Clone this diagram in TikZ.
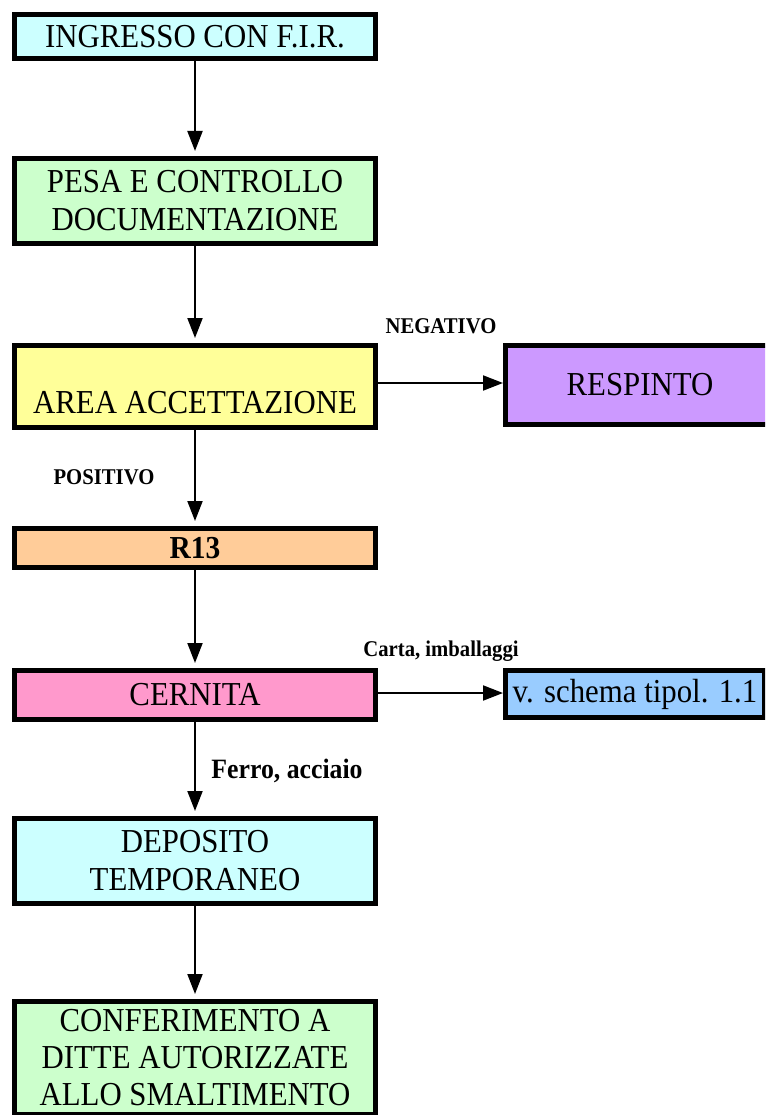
\documentclass[tikz,border=0pt]{standalone}
\usepackage{fontspec}
\setmainfont[FakeStretch=0.92]{Liberation Serif}
\usetikzlibrary{arrows.meta}
\definecolor{cCyan}{HTML}{CCFFFF}
\definecolor{cGreen}{HTML}{CCFFCC}
\definecolor{cYellow}{HTML}{FFFF99}
\definecolor{cPurple}{HTML}{CC99FF}
\definecolor{cPeach}{HTML}{FFCC99}
\definecolor{cPink}{HTML}{FF99CC}
\definecolor{cBlue}{HTML}{99CCFF}
\tikzset{
  box/.style={draw=black, line width=5pt, inner sep=0pt, align=center,
    font=\fontsize{33.5}{38}\selectfont},
  flow/.style={-{Triangle[width=15pt,length=20pt]}, line width=2pt},
  lab/.style={font=\bfseries\fontsize{22.5}{24}\selectfont, inner sep=0pt}
}
\begin{document}
\begin{tikzpicture}[x=1pt,y=-1pt]
\path[use as bounding box, clip] (0,0) rectangle (765,1115);
\node[box, fill=cCyan, minimum width=361pt, minimum height=44pt] (ing) at (195,36.5) {INGRESSO CON F.I.R.};
\node[box, fill=cGreen, minimum width=361pt, minimum height=85pt] (pesa) at (195,201) {PESA E CONTROLLO\\DOCUMENTAZIONE};
\node[box, fill=cYellow, minimum width=361pt, text height=68pt, text depth=14pt] (area) at (195,386.5) {AREA ACCETTAZIONE};
\node[box, fill=cPurple, minimum width=269pt, minimum height=79pt] (resp) at (640,385) {RESPINTO};
\node[box, fill=cPeach, minimum width=361pt, minimum height=39pt, font=\bfseries\fontsize{32}{36}\selectfont] (r13) at (195,548) {R13};
\node[box, fill=cPink, minimum width=361pt, minimum height=49pt] (cern) at (195,695) {CERNITA};
\node[box, fill=cBlue, minimum width=259pt, minimum height=47pt] (schema) at (635,694) {v. schema tipol. 1.1};
\node[box, fill=cCyan, minimum width=361pt, minimum height=85pt] (dep) at (195,861) {DEPOSITO\\TEMPORANEO};
\node[box, fill=cGreen, minimum width=361pt, minimum height=113pt, font=\fontsize{33.5}{37}\selectfont] (conf) at (195,1058) {CONFERIMENTO A\\DITTE AUTORIZZATE\\ALLO SMALTIMENTO};
\draw[flow, shorten >=5pt] (ing) -- (pesa);
\draw[flow, shorten >=5pt] (pesa) -- (area);
\draw[flow, shorten >=5pt] (area) -- (r13);
\draw[flow, shorten >=5pt] (r13) -- (cern);
\draw[flow, shorten >=5pt] (cern) -- (dep);
\draw[flow, shorten >=5pt] (dep) -- (conf);
\draw[flow] (area.east |- 0,383) -- (resp.west |- 0,383);
\draw[flow] (cern.east |- 0,693) -- (schema.west |- 0,693);
\node[lab] (neg) at (441,326) {NEGATIVO};
\node[lab] (pos) at (104,477) {POSITIVO};
\node[lab] (carta) at (441,651) {Carta, imballaggi};
\node[lab, font=\bfseries\fontsize{28}{30}\selectfont] (ferro) at (287,771) {Ferro, acciaio};
\end{tikzpicture}
\end{document}
